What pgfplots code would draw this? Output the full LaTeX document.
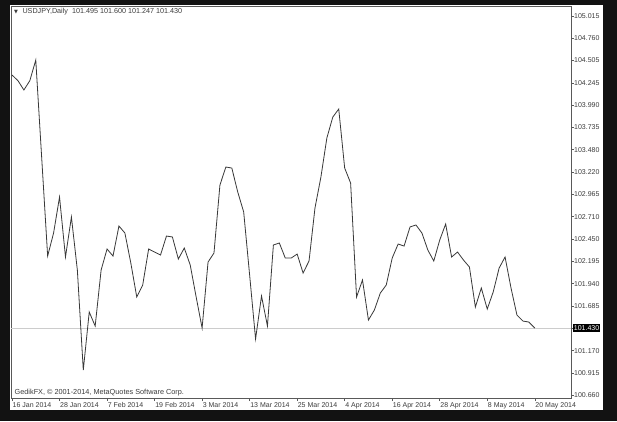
\documentclass[border=0pt]{standalone}
\usepackage{fontspec}
\setmainfont{Liberation Sans}
\newfontfamily\dejavu{DejaVu Sans}
\usepackage{pgfplots}
\pgfplotsset{compat=1.18}
\usepackage{pgfplotstable}

% daily closes, USDJPY 16 Jan 2014 - 20 May 2014 (bar index, close)
\pgfplotstableread{
i close
0 104.337
1 104.272
2 104.165
3 104.272
4 104.509
5 103.383
6 102.257
7 102.522
8 102.935
9 102.246
10 102.705
11 102.096
12 100.947
13 101.614
14 101.453
15 102.096
16 102.338
17 102.257
18 102.602
19 102.522
20 102.177
21 101.786
22 101.924
23 102.338
24 102.303
25 102.269
26 102.487
27 102.476
28 102.223
29 102.349
30 102.154
31 101.786
32 101.430
33 102.188
34 102.292
35 103.073
36 103.280
37 103.268
38 102.993
39 102.763
40 102.039
41 101.304
42 101.798
43 101.453
44 102.384
45 102.407
46 102.234
47 102.234
48 102.280
49 102.062
50 102.200
51 102.809
52 103.165
53 103.613
54 103.854
55 103.946
56 103.268
57 103.096
58 101.786
59 101.982
60 101.522
61 101.637
62 101.832
63 101.924
64 102.234
65 102.395
66 102.372
67 102.591
68 102.614
69 102.522
70 102.326
71 102.200
72 102.441
73 102.625
74 102.246
75 102.303
76 102.211
77 102.131
78 101.671
79 101.890
80 101.648
81 101.844
82 102.119
83 102.246
84 101.890
85 101.579
86 101.510
87 101.499
88 101.430
}\closes

\definecolor{txt}{HTML}{3C3C3C}

\begin{document}
\begin{tikzpicture}
\useasboundingbox (0pt,0pt) rectangle (617pt,421pt);
\fill[black!93] (0pt,0pt) rectangle (617pt,421pt);
\fill[white] (10pt,11pt) rectangle (603pt,416pt);
\begin{axis}[
  at={(11pt,23pt)}, anchor=south west,
  scale only axis, width=560pt, height=392pt,
  xmin=-0.17, xmax=94.1,
  ymin=100.626, ymax=105.130,
  axis line style={black!65, line width=0.8pt},
  tick style={black!65, line width=0.5pt},
  tick align=outside, major tick length=3pt,
  xtick pos=bottom, ytick pos=right,
  yticklabel pos=right,
  xtick={0,8,...,88},
  xticklabels={16 Jan 2014,28 Jan 2014,7 Feb 2014,19 Feb 2014,3 Mar 2014,13 Mar 2014,25 Mar 2014,4 Apr 2014,16 Apr 2014,28 Apr 2014,8 May 2014,20 May 2014},
  ytick={100.660,100.915,101.170,101.430,101.685,101.940,102.195,102.450,102.710,102.965,103.220,103.480,103.735,103.990,104.245,104.505,104.760,105.015},
  yticklabels={100.660,100.915,101.170,101.430,101.685,101.940,102.195,102.450,102.710,102.965,103.220,103.480,103.735,103.990,104.245,104.505,104.760,105.015},
  ticklabel style={font=\fontsize{7}{8}\selectfont, text=txt},
  xticklabel style={anchor=north west, xshift=-0.5pt, yshift=-0.5pt, inner sep=1pt},
  yticklabel style={anchor=west, xshift=-1pt, inner sep=1pt},
  clip=false,
]
\addplot[black!20, line width=0.6pt] coordinates {(-0.17,101.430) (94.1,101.430)};
\addplot[black!78, line width=0.8pt] table[x=i, y=close] {\closes};
\node[anchor=north west, font=\fontsize{7.2}{8}\selectfont, text=txt, inner sep=0pt]
  at (rel axis cs:0,1) [xshift=3pt, yshift=-2.5pt]
  {{\dejavu\fontsize{5}{6}\selectfont ▼}\hspace{4.5pt}USDJPY,Daily\ \ 101.495 101.600 101.247 101.430};
\node[anchor=south west, font=\fontsize{7.3}{8}\selectfont, text=txt, inner sep=0pt]
  at (rel axis cs:0,0) [xshift=3.5pt, yshift=2pt]
  {GedikFX, © 2001-2014, MetaQuotes Software Corp.};
\node[anchor=west, fill=black, text=white, font=\fontsize{7}{8}\selectfont, inner sep=1.2pt]
  at (axis cs:94.1,101.430) [xshift=1.5pt] {101.430};
\end{axis}
\end{tikzpicture}
\end{document}
